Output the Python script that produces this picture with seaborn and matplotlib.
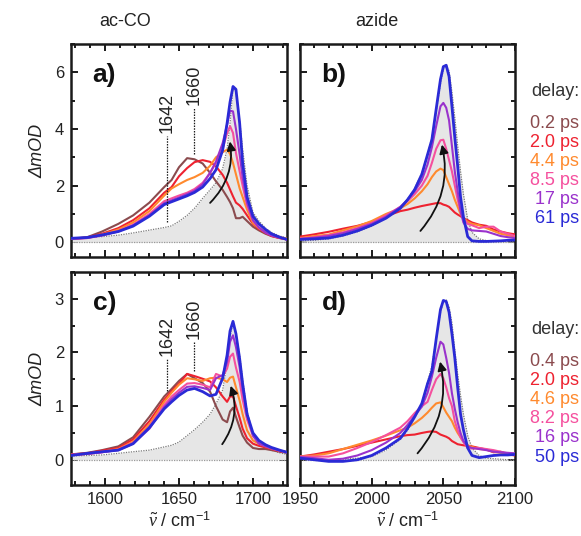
import numpy as np
import pandas as pd
import matplotlib
matplotlib.use("Agg")
import matplotlib.pyplot as plt
import seaborn as sns
from matplotlib.ticker import MultipleLocator

# ---------------- data ----------------
series_colors = ["#8B4B4E", "#EE2230", "#FF8A2E", "#F5509E", "#9A32CC", "#2A2AD6"]
delays_top = ["0.2 ps", "2.0 ps", "4.4 ps", "8.5 ps", "17 ps", "61 ps"]
delays_bot = ["0.4 ps", "2.0 ps", "4.6 ps", "8.2 ps", "16 ps", "50 ps"]
panel_titles = ["ac-CO", "azide"]
panel_letters = ["a)", "b)", "c)", "d)"]
peak_marks = [1642, 1660]

# ac-CO wavenumber grid (cm-1)
x_co = [1577, 1588, 1598, 1609, 1619, 1630, 1640, 1645, 1650, 1655.5, 1660.5, 1666, 1671, 1675,
        1679.5, 1682.5, 1684.5, 1686.5, 1688.5, 1691, 1693, 1696, 1700, 1704, 1708.5, 1712.5, 1718, 1723]
# panel a
brown_a = [0.12, 0.18, 0.38, 0.65, 0.95, 1.4, 1.95, 2.2, 2.65, 2.97, 2.93, 2.78, 2.45, 2.15, 1.85, 1.6, 1.42, 1.2, 0.85, 0.85, 0.9, 0.75, 0.55, 0.42, 0.3, 0.22, 0.15, 0.1]
red_a = [0.12, 0.17, 0.3, 0.5, 0.78, 1.2, 1.75, 1.95, 2.33, 2.62, 2.83, 2.9, 2.84, 2.68, 2.38, 2.1, 1.86, 1.62, 1.4, 1.3, 1.18, 0.95, 0.65, 0.47, 0.33, 0.22, 0.15, 0.1]
orange_a = [0.12, 0.16, 0.27, 0.45, 0.7, 1.1, 1.65, 1.9, 2.05, 2.2, 2.3, 2.45, 2.7, 3.0, 3.18, 3.27, 3.12, 2.8, 2.4, 1.9, 1.6, 1.15, 0.68, 0.5, 0.36, 0.27, 0.18, 0.13]
pink_a = [0.12, 0.15, 0.25, 0.4, 0.62, 1.0, 1.45, 1.55, 1.65, 1.75, 1.88, 2.1, 2.45, 2.8, 3.3, 3.85, 4.1, 3.86, 3.15, 2.5, 2.0, 1.3, 0.75, 0.52, 0.35, 0.25, 0.16, 0.1]
purple_a = [0.12, 0.15, 0.24, 0.38, 0.6, 0.95, 1.38, 1.48, 1.58, 1.7, 1.82, 2.05, 2.45, 2.85, 3.5, 4.15, 4.65, 4.62, 4.0, 3.1, 2.3, 1.4, 0.78, 0.52, 0.34, 0.24, 0.16, 0.1]
blue_a = [0.14, 0.17, 0.26, 0.38, 0.57, 0.92, 1.33, 1.43, 1.53, 1.64, 1.76, 1.95, 2.25, 2.56, 3.25, 4.2, 4.95, 5.5, 5.4, 4.2, 2.8, 1.6, 0.92, 0.65, 0.45, 0.3, 0.18, 0.1]
ref_a = [0.15, 0.17, 0.2, 0.25, 0.33, 0.43, 0.52, 0.58, 0.74, 0.95, 1.2, 1.55, 1.85, 2.1, 2.6, 3.3, 4.2, 5.45, 5.3, 4.3, 3.3, 2.0, 1.05, 0.75, 0.5, 0.35, 0.22, 0.15]
# panel c
brown_c = [0.1, 0.13, 0.18, 0.25, 0.42, 0.8, 1.18, 1.32, 1.47, 1.6, 1.52, 1.43, 1.27, 1.0, 0.75, 0.7, 0.9, 0.97, 0.8, 0.6, 0.45, 0.32, 0.22, 0.2, 0.2, 0.18, 0.15, 0.13]
red_c = [0.1, 0.12, 0.17, 0.22, 0.38, 0.72, 1.12, 1.28, 1.42, 1.6, 1.56, 1.51, 1.46, 1.35, 1.18, 1.08, 1.18, 1.18, 1.0, 0.78, 0.58, 0.4, 0.3, 0.26, 0.23, 0.2, 0.16, 0.14]
orange_c = [0.09, 0.11, 0.15, 0.2, 0.34, 0.66, 1.08, 1.25, 1.4, 1.52, 1.5, 1.47, 1.52, 1.53, 1.5, 1.45, 1.53, 1.55, 1.35, 1.1, 0.85, 0.55, 0.36, 0.3, 0.25, 0.21, 0.17, 0.14]
pink_c = [0.09, 0.11, 0.14, 0.19, 0.32, 0.62, 1.02, 1.18, 1.3, 1.42, 1.43, 1.4, 1.35, 1.6, 1.55, 1.7, 1.92, 1.98, 1.72, 1.45, 1.12, 0.75, 0.45, 0.32, 0.26, 0.22, 0.17, 0.14]
purple_c = [0.09, 0.11, 0.14, 0.18, 0.3, 0.58, 0.98, 1.13, 1.25, 1.36, 1.37, 1.34, 1.3, 1.52, 1.58, 1.82, 2.2, 2.32, 2.1, 1.72, 1.3, 0.85, 0.45, 0.3, 0.25, 0.21, 0.17, 0.14]
blue_c = [0.08, 0.12, 0.15, 0.18, 0.3, 0.6, 0.95, 1.08, 1.2, 1.3, 1.33, 1.27, 1.19, 1.22, 1.52, 1.95, 2.4, 2.58, 2.35, 1.88, 1.42, 0.85, 0.5, 0.36, 0.28, 0.23, 0.18, 0.14]
ref_c = [0.07, 0.08, 0.09, 0.12, 0.15, 0.18, 0.24, 0.27, 0.33, 0.45, 0.56, 0.7, 0.85, 1.04, 1.3, 1.8, 2.3, 2.55, 2.35, 1.95, 1.5, 0.91, 0.48, 0.35, 0.25, 0.18, 0.13, 0.1]

# azide wavenumber grid (cm-1)
x_az = [1950, 1960, 1970, 1980, 1990, 2000, 2010, 2020, 2025, 2030, 2035, 2039, 2042, 2045, 2048, 2050,
        2052, 2054, 2056, 2058, 2060, 2062, 2064, 2067, 2070, 2075, 2080, 2085, 2090, 2095, 2100]
# panel b
red_b = [0.2, 0.28, 0.37, 0.48, 0.58, 0.72, 0.92, 1.1, 1.15, 1.22, 1.28, 1.32, 1.35, 1.38, 1.38, 1.33, 1.3, 1.25, 1.15, 1.05, 0.98, 0.92, 0.85, 0.78, 0.7, 0.62, 0.58, 0.45, 0.38, 0.32, 0.28]
orange_b = [0.15, 0.22, 0.27, 0.42, 0.56, 0.75, 1.0, 1.2, 1.35, 1.55, 1.8, 2.05, 2.3, 2.5, 2.6, 2.55, 2.3, 2.05, 1.8, 1.5, 1.25, 1.0, 0.85, 0.72, 0.65, 0.6, 0.5, 0.4, 0.3, 0.25, 0.2]
pink_b = [0.13, 0.18, 0.25, 0.35, 0.5, 0.68, 0.95, 1.25, 1.45, 1.7, 2.0, 2.35, 2.8, 3.3, 3.6, 3.62, 3.3, 2.9, 2.5, 2.0, 1.5, 1.1, 0.85, 0.65, 0.6, 0.5, 0.55, 0.55, 0.38, 0.3, 0.22]
purple_b = [0.12, 0.16, 0.22, 0.32, 0.47, 0.65, 0.9, 1.25, 1.5, 1.8, 2.2, 2.75, 3.35, 4.1, 4.8, 4.92, 4.75, 4.3, 3.4, 2.5, 1.8, 1.1, 0.7, 0.47, 0.42, 0.4, 0.38, 0.3, 0.22, 0.18, 0.15]
blue_b = [0.1, 0.12, 0.15, 0.25, 0.4, 0.6, 0.85, 1.2, 1.5, 1.86, 2.4, 3.1, 3.62, 4.7, 5.75, 6.2, 6.25, 5.85, 4.8, 3.7, 2.7, 1.6, 0.9, 0.2, 0.05, 0.03, 0.03, 0.04, 0.05, 0.07, 0.08]
ref_b = [0.05, 0.07, 0.12, 0.22, 0.37, 0.57, 0.85, 1.22, 1.52, 1.9, 2.45, 3.1, 3.7, 4.6, 5.6, 6.1, 6.25, 6.05, 5.3, 4.4, 3.4, 2.5, 1.7, 0.8, 0.35, 0.12, 0.06, 0.04, 0.03, 0.02, 0.02]
# panel d
red_d = [0.06, 0.1, 0.15, 0.2, 0.26, 0.32, 0.38, 0.44, 0.46, 0.47, 0.5, 0.52, 0.53, 0.52, 0.47, 0.45, 0.43, 0.4, 0.35, 0.32, 0.29, 0.28, 0.27, 0.26, 0.25, 0.22, 0.19, 0.14, 0.15, 0.1, 0.08]
orange_d = [0.06, 0.08, 0.12, 0.2, 0.28, 0.36, 0.45, 0.55, 0.6, 0.68, 0.78, 0.88, 0.97, 1.05, 1.07, 0.98, 0.88, 0.8, 0.72, 0.6, 0.5, 0.42, 0.34, 0.27, 0.24, 0.2, 0.19, 0.15, 0.13, 0.12, 0.11]
pink_d = [0.06, 0.06, 0.06, 0.12, 0.22, 0.33, 0.46, 0.6, 0.72, 0.87, 1.0, 1.08, 1.3, 1.5, 1.6, 1.52, 1.35, 1.15, 1.0, 0.72, 0.55, 0.42, 0.33, 0.22, 0.21, 0.22, 0.2, 0.18, 0.15, 0.12, 0.1]
purple_d = [0.05, 0.03, 0.0, 0.02, 0.08, 0.18, 0.32, 0.5, 0.65, 0.82, 0.99, 1.25, 1.55, 1.9, 2.2, 2.15, 1.9, 1.62, 1.24, 0.95, 0.7, 0.5, 0.35, 0.25, 0.22, 0.2, 0.18, 0.15, 0.14, 0.13, 0.12]
blue_d = [0.03, 0.0, -0.03, -0.03, 0.0, 0.08, 0.22, 0.4, 0.58, 0.8, 1.05, 1.42, 1.65, 2.25, 2.8, 2.97, 2.95, 2.75, 2.35, 1.9, 1.35, 0.85, 0.56, 0.22, 0.08, 0.04, 0.06, 0.08, 0.09, 0.09, 0.1]
ref_d = [0.0, 0.0, 0.0, 0.01, 0.03, 0.06, 0.18, 0.38, 0.55, 0.78, 1.05, 1.45, 1.75, 2.25, 2.75, 2.95, 2.98, 2.85, 2.55, 2.05, 1.6, 1.2, 0.85, 0.45, 0.22, 0.08, 0.03, 0.02, 0.01, 0.0, 0.0]

# ---------------- style ----------------
sns.set_theme(style="ticks")
plt.rcParams["font.family"] = ["Liberation Sans", "DejaVu Sans"]
plt.rcParams["mathtext.fontset"] = "custom"
plt.rcParams["mathtext.rm"] = "Liberation Sans"
plt.rcParams["mathtext.it"] = "Liberation Serif:italic"
TXT = "#222222"

fig = plt.figure(figsize=(5.81, 5.36), dpi=100)
W, H = 581.0, 536.0
def add_ax(l, t, r, b):
    return fig.add_axes([l / W, 1 - b / H, (r - l) / W, (b - t) / H])

ax_a = add_ax(71, 44, 287, 257)
ax_b = add_ax(300, 44, 515, 257)
ax_c = add_ax(71, 272, 287, 485)
ax_d = add_ax(300, 272, 515, 485)

panels = [
    (ax_a, x_co, [brown_a, red_a, orange_a, pink_a, purple_a, blue_a], ref_a),
    (ax_b, x_az, [red_b, orange_b, pink_b, purple_b, blue_b], ref_b),
    (ax_c, x_co, [brown_c, red_c, orange_c, pink_c, purple_c, blue_c], ref_c),
    (ax_d, x_az, [red_d, orange_d, pink_d, purple_d, blue_d], ref_d),
]

for ax, xs, curves, ref in panels:
    ax.fill_between(xs, 0, ref, color="#E6E6E6", lw=0, zorder=1)
    sns.lineplot(x=xs, y=ref, ax=ax, color="#7a7a7a", lw=0.9, linestyle=(0, (1, 1)), zorder=2)
    ax.axhline(0, color="#9a9a9a", lw=0.9, ls=(0, (1, 1)), zorder=1.5)
    cols = series_colors if len(curves) == 6 else series_colors[1:]
    for ys, c in zip(curves, cols):
        lw = 2.0 if c == series_colors[-1] else 1.5
        sns.lineplot(x=xs, y=ys, ax=ax, color=c, lw=lw, zorder=3)

for ax in (ax_a, ax_c):
    ax.set_xlim(1577, 1723)
    ax.xaxis.set_major_locator(MultipleLocator(50))
    ax.xaxis.set_minor_locator(MultipleLocator(10))
for ax in (ax_b, ax_d):
    ax.set_xlim(1950, 2100)
    ax.xaxis.set_major_locator(MultipleLocator(50))
    ax.xaxis.set_minor_locator(MultipleLocator(10))
for ax in (ax_a, ax_b):
    ax.set_ylim(-0.52, 7.0)
    ax.yaxis.set_major_locator(MultipleLocator(2))
    ax.yaxis.set_minor_locator(MultipleLocator(1))
for ax in (ax_c, ax_d):
    ax.set_ylim(-0.47, 3.5)
    ax.yaxis.set_major_locator(MultipleLocator(1))
    ax.yaxis.set_minor_locator(MultipleLocator(0.5))

for ax in (ax_a, ax_b, ax_c, ax_d):
    ax.tick_params(which="both", direction="in", top=True, right=True, color="k",
                   width=1.4, labelsize=12, labelcolor=TXT, pad=5)
    ax.tick_params(which="major", length=5)
    ax.tick_params(which="minor", length=3)
    for s in ax.spines.values():
        s.set_linewidth(1.8)
        s.set_color("k")
    ax.set_xlabel("")
    ax.set_ylabel("")

for ax in (ax_a, ax_b):
    ax.tick_params(labelbottom=False)
for ax in (ax_b, ax_d):
    ax.tick_params(labelleft=False)

for ax in (ax_a, ax_c):
    ax.set_ylabel("ΔmOD", fontsize=13, color=TXT, style="italic", labelpad=6)
for ax in (ax_c, ax_d):
    ax.set_xlabel(r"$\tilde{\nu}$ / cm$^{-1}$", fontsize=13, color=TXT, labelpad=3)

fig.text(125 / W, 1 - 22 / H, panel_titles[0], fontsize=13, color=TXT, ha="center", va="center")
fig.text(377 / W, 1 - 22 / H, panel_titles[1], fontsize=13, color=TXT, ha="center", va="center")

for ax, lab in zip((ax_a, ax_b, ax_c, ax_d), panel_letters):
    ax.text(0.10, 0.855, lab, transform=ax.transAxes, fontsize=19, fontweight="bold",
            color="#111111", va="center", ha="left")

# peak marker lines and labels
def peak_marker(ax, x, y0, y1):
    ax.plot([x, x], [y0, y1], color="k", lw=0.9, ls=(0, (1.2, 1)), zorder=4)
    ax.annotate(str(x), xy=(x, y1), xytext=(0, 2), textcoords="offset points", rotation=90,
                ha="center", va="bottom", fontsize=13, color=TXT, zorder=5)

peak_marker(ax_a, peak_marks[0], 0.72, 3.75)
peak_marker(ax_a, peak_marks[1], 3.1, 4.75)
peak_marker(ax_c, peak_marks[0], 1.29, 1.88)
peak_marker(ax_c, peak_marks[1], 1.66, 2.2)

# evolution arrows
def evo_arrow(ax, start, end):
    ax.annotate("", xy=end, xytext=start, zorder=6,
                arrowprops=dict(arrowstyle="-|>", color="#111111", lw=1.3,
                                connectionstyle="arc3,rad=0.25", shrinkA=0, shrinkB=0,
                                mutation_scale=13))

evo_arrow(ax_a, (1671, 1.39), (1684.4, 3.56))
evo_arrow(ax_b, (2034, 0.4), (2049, 3.45))
evo_arrow(ax_c, (1679.2, 0.29), (1684.9, 1.38))
evo_arrow(ax_d, (2032, 0.12), (2047.7, 1.83))

# legends as colored text
def delay_legend(y_head, labels):
    fig.text(579 / W, 1 - y_head / H, "delay:", ha="right", va="center", fontsize=13, color="#333333")
    for i, (lab, c) in enumerate(zip(labels, series_colors)):
        fig.text(579 / W, 1 - (y_head + 31 + 19.2 * i) / H, lab, ha="right", va="center",
                 fontsize=13, color=c)

delay_legend(92, delays_top)
delay_legend(330, delays_bot)

fig.savefig("out.png", dpi=100)
